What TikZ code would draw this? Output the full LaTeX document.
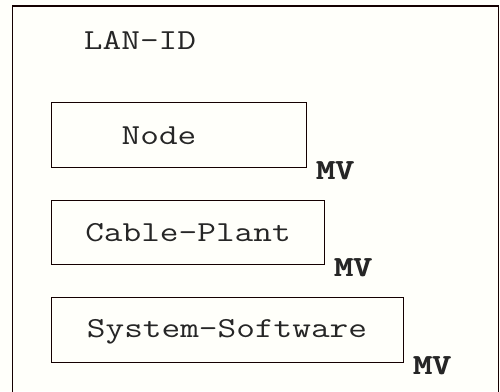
\documentclass[tikz,border=0pt]{standalone}
\begin{document}
\begin{tikzpicture}[x=1pt,y=-1pt,
  ink/.style={draw=black!80!red!40!black},
  entity/.style={ink, line width=1.1pt, rectangle, inner sep=0pt, anchor=north west},
  label/.style={font=\fontsize{29}{29}\selectfont\ttfamily, text=black!85},
  mvtag/.style={font=\fontsize{29}{29}\selectfont\ttfamily\bfseries, text=black!85, inner sep=0pt}]
  % wide typewriter lettering
  \newcommand{\wide}[1]{\scalebox{1.25}[1]{#1}}
  % heavier lettering for the multi-valued tags
  \newcommand{\heavy}[1]{\rlap{\wide{#1}}\kern0.9pt\wide{#1}}
  % page background and extent
  \fill[black!3!yellow!2!white] (0,0) rectangle (500,391);
  \useasboundingbox (0,0) rectangle (500,391);
  % enclosing LAN-ID frame (continues below the lower edge)
  \draw[ink, line width=1.4pt] (12.5,400) -- (12.5,6) -- (498.5,6) -- (498.5,400);
  \node[label] (lan) at (140,40) {\wide{LAN-ID}};
  % component entities
  \node[entity, minimum width=255pt, minimum height=65pt] (node) at (50.5,102) {};
  \node[label] (nodetxt) at (159,136) {\wide{Node}};
  \node[mvtag, anchor=west] (mv1) at (node.south east) [xshift=9pt, yshift=-3pt] {\heavy{MV}};
  \node[entity, minimum width=273pt, minimum height=64pt] (cable) at (50.5,200) {};
  \node[label] (cabletxt) at (188,233) {\wide{Cable-Plant}};
  \node[mvtag, anchor=west] (mv2) at (cable.south east) [xshift=9pt, yshift=-3pt] {\heavy{MV}};
  \node[entity, minimum width=352pt, minimum height=65pt] (sys) at (50.5,297) {};
  \node[label] (systxt) at (227,332) {\wide{System-Software}};
  \node[mvtag, anchor=west] (mv3) at (sys.south east) [xshift=9pt, yshift=-3pt] {\heavy{MV}};
\end{tikzpicture}
\end{document}
